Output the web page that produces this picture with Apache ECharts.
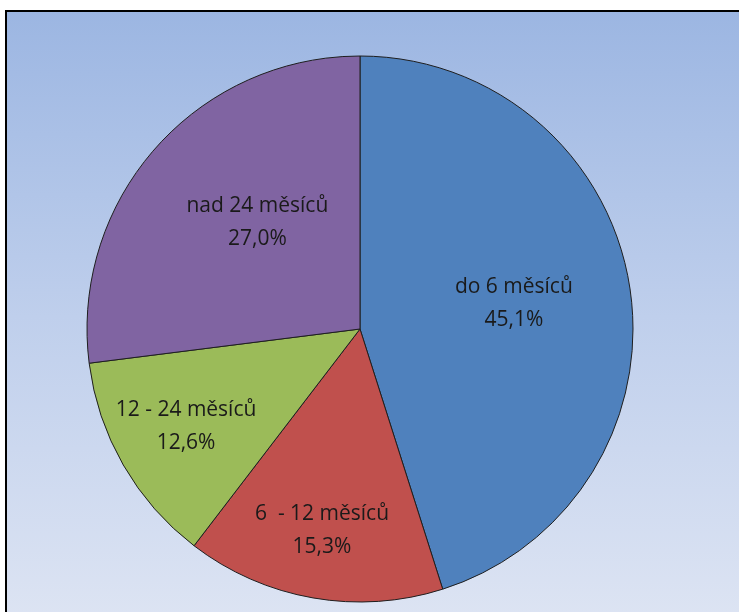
<!DOCTYPE html>
<html>
<head>
<meta charset="utf-8">
<script src="https://cdn.jsdelivr.net/npm/echarts@6/dist/echarts.min.js"></script>
<style>
  html, body { margin: 0; padding: 0; background: #fff; }
  #frame {
    position: absolute; left: 5px; top: 10px; width: 740px; height: 610px;
    border: 2px solid #000;
    background: linear-gradient(to bottom, #9cb6e2 0%, #bfcfec 50%, #dde4f3 100%);
  }
  #chart { position: absolute; left: 0; top: 0; width: 739px; height: 612px; }
</style>
</head>
<body>
<div id="frame"></div>
<div id="chart"></div>
<script>
// kategorie a hodnoty (%)
const categories = ["do 6 měsíců", "6  - 12 měsíců", "12 - 24 měsíců", "nad 24 měsíců"];
const values = [45.1, 15.3, 12.6, 27.0];
const colors = ["#4f81bd", "#c0504d", "#9bbb59", "#8064a2"];
// posun popisků (Excel je dává jinam než echarts)
const labelShift = [[16, -4], [-14, 64], [-53, 28], [2, -14]];

let chart = echarts.init(document.getElementById("chart"));
let pieData = [];
for (const i in categories) {
  pieData.push({ name: categories[i], value: values[i], itemStyle: { color: colors[i] } });
}
chart.setOption({
  animation: false,
  series: [
    {
      type: "pie",
      center: [360, 329],
      radius: 273,
      startAngle: 90,
      clockwise: true,
      data: pieData,
      itemStyle: { borderColor: "#1e1e1e", borderWidth: 1 },
      label: {
        position: "inside",
        color: "#1a1a1a",
        fontFamily: "Open Sans",
        fontSize: 21,
        lineHeight: 33,
        formatter: (p) => p.name + "\n" + p.value.toFixed(1).replace(".", ",") + "%",
      },
      labelLine: { show: false },
      labelLayout: (p) => ({ dx: labelShift[p.dataIndex][0], dy: labelShift[p.dataIndex][1] }),
    },
  ],
});
</script>
</body>
</html>
